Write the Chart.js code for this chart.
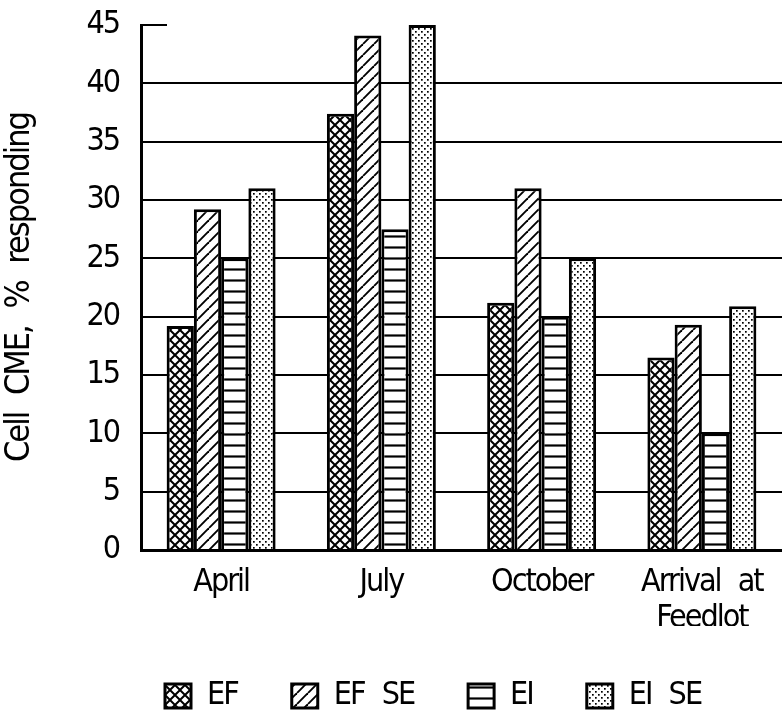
<!DOCTYPE html>
<html><head><meta charset="utf-8">
<script src="https://cdn.jsdelivr.net/npm/chart.js@4.4.1/dist/chart.umd.min.js"></script>
<style>html,body{margin:0;padding:0;background:#fff;} canvas{display:block;}</style>
</head><body>
<canvas id="c" width="782" height="712"></canvas>
<script>
// ---- data ----
const categories = ['April', 'July', 'October', ['Arrival at', 'Feedlot']];
const seriesNames = ['EF', 'EF SE', 'EI', 'EI SE'];
const efValues   = [19.2, 37.4, 21.2, 16.5];
const efSeValues = [29.2, 44.1, 31.0, 19.3];
const eiValues   = [25.0, 27.5, 20.0, 10.0];
const eiSeValues = [31.0, 45.0, 25.0, 20.9];
const yTickValues = [0, 5, 10, 15, 20, 25, 30, 35, 40, 45];
const yTitle = 'Cell CME, % responding';

// ---- style ----
const FONT = "'DejaVu Sans Condensed', 'Liberation Sans', sans-serif";
const WORD_SPACING = '10px';
const LETTER_SPACING = '-2px';
const LEGEND_H = 86, X_AXIS_H = 76, Y_AXIS_W = 141, LEGEND_LEFT = 111, TOP_TICK_LEN = 26;

function makePattern(kind) {
  const s = kind === 'dots' ? 6 : (kind === 'cross' ? 10 : 11);
  const cv = document.createElement('canvas');
  cv.width = s; cv.height = s;
  const g = cv.getContext('2d');
  g.fillStyle = '#fff'; g.fillRect(0, 0, s, s);
  g.strokeStyle = '#000'; g.fillStyle = '#000';
  if (kind === 'cross') {
    g.lineWidth = 2;
    for (const d of [-s, 0, s]) {
      g.beginPath(); g.moveTo(d, 0); g.lineTo(d + s, s); g.moveTo(d + s, 0); g.lineTo(d, s); g.stroke();
    }
  } else if (kind === 'diag') {
    g.lineWidth = 1.9;
    for (const d of [-s, 0, s]) {
      g.beginPath(); g.moveTo(d, s); g.lineTo(d + s, 0); g.stroke();
    }
  } else if (kind === 'hline') {
    g.lineWidth = 2.2;
    g.beginPath(); g.moveTo(0, s / 2); g.lineTo(s, s / 2); g.stroke();
  } else {
    g.fillRect(1, 1, 1.7, 1.7); g.fillRect(4, 4, 1.7, 1.7);
  }
  return g.createPattern(cv, 'repeat');
}

Chart.defaults.font.family = FONT;
Chart.defaults.font.size = 32;
Chart.defaults.color = '#000';

function applyTextSpacing(c) { c.wordSpacing = WORD_SPACING; c.letterSpacing = LETTER_SPACING; }

const stylePlugin = {
  id: 'stylePlugin',
  beforeInit(chart) {
    const lg = chart.legend;
    if (lg && !lg._patched) {
      const orig = lg.fit;
      lg.fit = function () { orig.call(this); this.height = LEGEND_H; };
      lg._patched = true;
    }
  },
  beforeLayout(chart) { applyTextSpacing(chart.ctx); },
  afterLayout(chart) { if (chart.legend) chart.legend.left = LEGEND_LEFT; },
  beforeDraw(chart) {
    const c = chart.ctx;
    c.save(); c.fillStyle = '#fff'; c.fillRect(0, 0, chart.width, chart.height); c.restore();
    applyTextSpacing(c);
  },
  afterDraw(chart) {
    const ys = chart.scales.y;
    const py = ys.getPixelForValue(yTickValues[yTickValues.length - 1]);
    const c = chart.ctx;
    c.save(); c.strokeStyle = '#000'; c.lineWidth = 2;
    c.beginPath(); c.moveTo(chart.chartArea.left, py); c.lineTo(chart.chartArea.left + TOP_TICK_LEN, py); c.stroke();
    c.restore();
  }
};

const seriesValues = [efValues, efSeValues, eiValues, eiSeValues];
const seriesPatterns = ['cross', 'diag', 'hline', 'dots'];

new Chart(document.getElementById('c'), {
  type: 'bar',
  data: {
    labels: categories,
    datasets: seriesNames.map((name, i) => ({
      label: name,
      data: seriesValues[i],
      backgroundColor: makePattern(seriesPatterns[i]),
      borderColor: '#000',
      borderWidth: 3,
      categoryPercentage: 0.68,
      barPercentage: 1.0
    }))
  },
  options: {
    responsive: false,
    animation: false,
    events: [],
    layout: { padding: { top: 25, right: 0, left: 0, bottom: 0 } },
    plugins: {
      tooltip: { enabled: false },
      legend: {
        position: 'bottom',
        align: 'start',
        fullSize: true,
        labels: {
          boxWidth: 26, boxHeight: 24, padding: 54, color: '#000',
          font: { size: 32, family: FONT, lineHeight: 1 }
        }
      }
    },
    scales: {
      x: {
        grid: { display: false, drawTicks: false },
        border: { display: true, color: '#000', width: 3 },
        ticks: { color: '#000', padding: 15, maxRotation: 0, autoSkip: false, font: { size: 32, lineHeight: 1.125 } },
        afterFit(s) { s.height = X_AXIS_H; s.paddingLeft = 0; s.paddingRight = 0; }
      },
      y: {
        min: 0, max: 45,
        afterBuildTicks(s) { s.ticks = yTickValues.map(v => ({ value: v })); },
        grid: {
          drawTicks: false, lineWidth: 2,
          color: ctx => (ctx.tick && ctx.tick.value === 45) ? 'rgba(0,0,0,0)' : '#000'
        },
        border: { display: true, color: '#000', width: 3 },
        ticks: { color: '#000', padding: 22, font: { size: 32 } },
        title: { display: true, text: yTitle, color: '#000', font: { size: 34 }, padding: { top: 0, bottom: 0 } },
        afterFit(s) { s.width = Y_AXIS_W; s.paddingTop = 0; s.paddingBottom = 0; }
      }
    }
  },
  plugins: [stylePlugin]
});
</script>
</body></html>
